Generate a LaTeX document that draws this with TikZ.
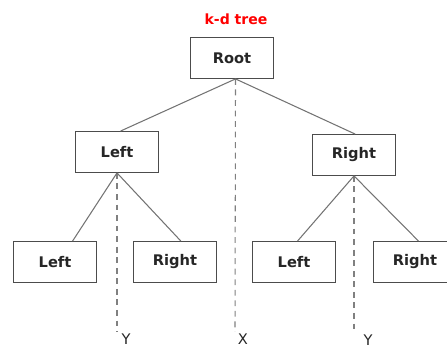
\documentclass[tikz,border=0pt]{standalone}
\usepackage{fontspec}
\setmainfont{DejaVu Sans}
\usepackage{tikz}

\begin{document}
\begin{tikzpicture}[semithick, x=0.03cm, y=-0.03cm]
  \tikzstyle{box}=[fill=white,draw=black!70,line width=1pt,text=black!85,rectangle,minimum width=2.5cm,minimum height=1.22cm,font=\fontsize{12.5}{15}\selectfont\bfseries]
  \tikzstyle{branch}=[draw=black!55,line width=0.9pt]
  \tikzstyle{split}=[draw=black!50,line width=0.9pt,dashed,dash pattern=on 5pt off 4pt]
  \tikzstyle{axis}=[text=black!85,font=\fontsize{12.5}{15}\selectfont]

  \useasboundingbox (0,0) rectangle (447,349);

  \node[text=red,font=\fontsize{12}{14}\selectfont\bfseries] (title) at (236,19) {k-d tree};

  \node[box]      (root)       at (232,58)  {Root};
  \node[box]      (left)       at (117,152) {Left};
  \node[box]      (right)      at (354,155) {Right};
  \node[box]      (leftleft)   at (55,262)  {Left};
  \node[box]      (leftright)  at (175,262) {Right};
  \node[box]      (rightleft)  at (294,262) {Left};
  \node[box]      (rightright) at (415,262) {Right};

  \coordinate (xend)  at (235,332);
  \coordinate (lyend) at (117,332);
  \coordinate (ryend) at (354,332);

  \path[split] ([xshift=3]root.south) edge (xend);
  \path[split] (left.south)  edge (lyend);
  \path[split] (right.south) edge (ryend);

  \path[branch] ([xshift=3]root.south) edge ([xshift=3]left.north);
  \path[branch] ([xshift=3]root.south) edge ([xshift=1]right.north);
  \path[branch] (left.south)  edge ([xshift=15]leftleft.north);
  \path[branch] (left.south)  edge ([xshift=5]leftright.north);
  \path[branch] (right.south) edge ([xshift=3]rightleft.north);
  \path[branch] (right.south) edge ([xshift=3]rightright.north);

  \node[axis] (xlabel)  at (243,339) {X};
  \node[axis] (lylabel) at (126,339) {Y};
  \node[axis] (rylabel) at (368,340) {Y};

\end{tikzpicture}
\end{document}
